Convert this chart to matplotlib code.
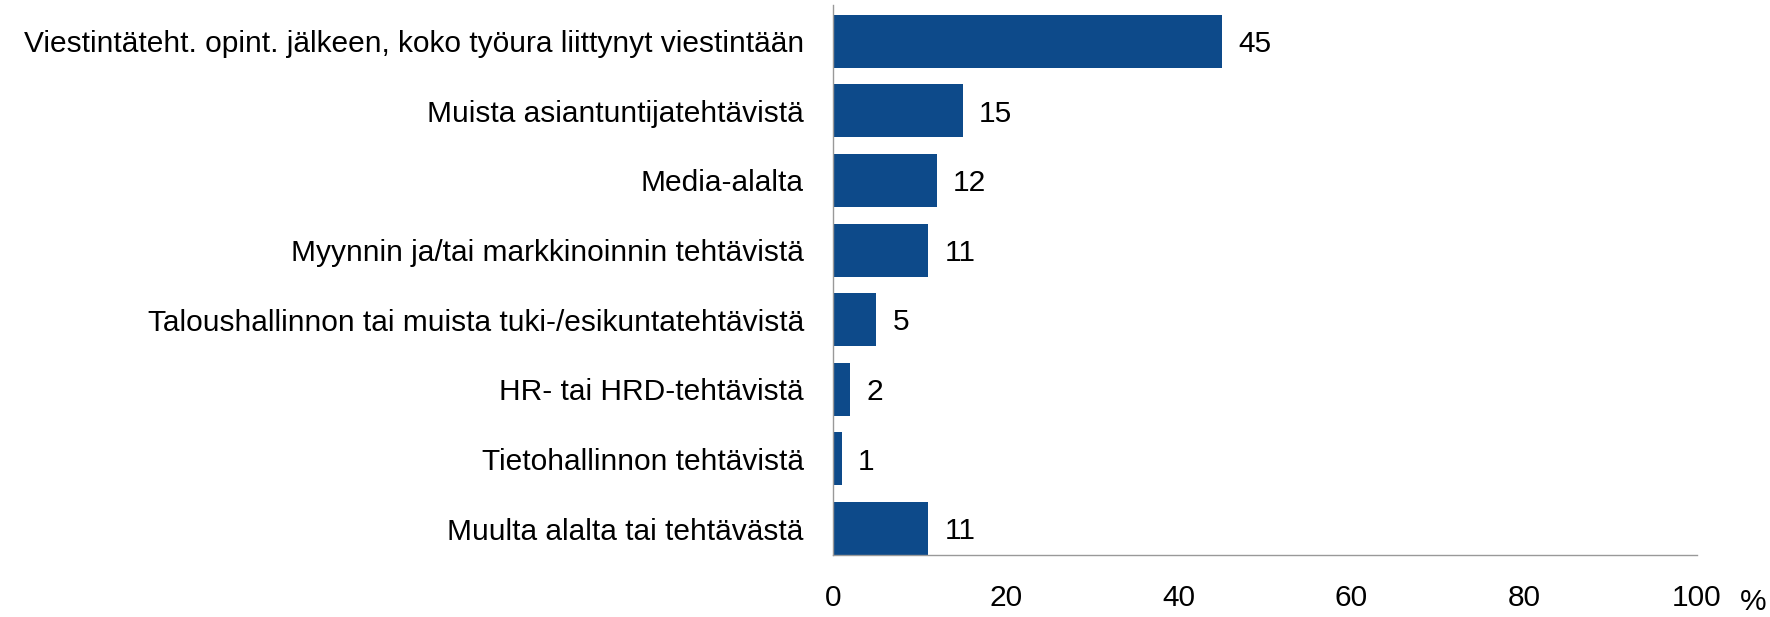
import matplotlib
matplotlib.use('Agg')
import matplotlib.pyplot as plt

plt.rcParams['font.family'] = ['Liberation Sans', 'DejaVu Sans']

# data
categories = [
    'Viestintäteht. opint. jälkeen, koko työura liittynyt viestintään',
    'Muista asiantuntijatehtävistä',
    'Media-alalta',
    'Myynnin ja/tai markkinoinnin tehtävistä',
    'Taloushallinnon tai muista tuki-/esikuntatehtävistä',
    'HR- tai HRD-tehtävistä',
    'Tietohallinnon tehtävistä',
    'Muulta alalta tai tehtävästä',
]
values = [45, 15, 12, 11, 5, 2, 1, 11]
xticks = [0, 20, 40, 60, 80, 100]

bar_color = '#0d4a8a'
fs = 21.5

fig = plt.figure(figsize=(17.7, 6.17), dpi=100)
ax = fig.add_axes([833 / 1770, 1 - 555 / 617, 864 / 1770, 550 / 617])

ypos = list(range(len(categories)))
ax.barh(ypos, values, height=0.76, color=bar_color)
for y, v in zip(ypos, values):
    ax.text(v + 1.9, y + 0.04, str(v), va='center', ha='left', fontsize=fs)

ax.set_xlim(0, 100)
ax.set_ylim(7.38, -0.52)
ax.set_yticks(ypos)
ax.set_yticklabels(categories, fontsize=fs)
ax.set_xticks(xticks)
ax.set_xticklabels([str(t) for t in xticks], fontsize=fs)
ax.tick_params(axis='y', length=0, pad=21)
ax.tick_params(axis='x', length=0, pad=21)

for s in ['top', 'right']:
    ax.spines[s].set_visible(False)
for s in ['left', 'bottom']:
    ax.spines[s].set_color('#999999')
    ax.spines[s].set_linewidth(1.0)

fig.text(1753 / 1770, 1 - 602 / 617, '%', ha='center', va='center', fontsize=fs)

fig.savefig('out.png', dpi=100)
